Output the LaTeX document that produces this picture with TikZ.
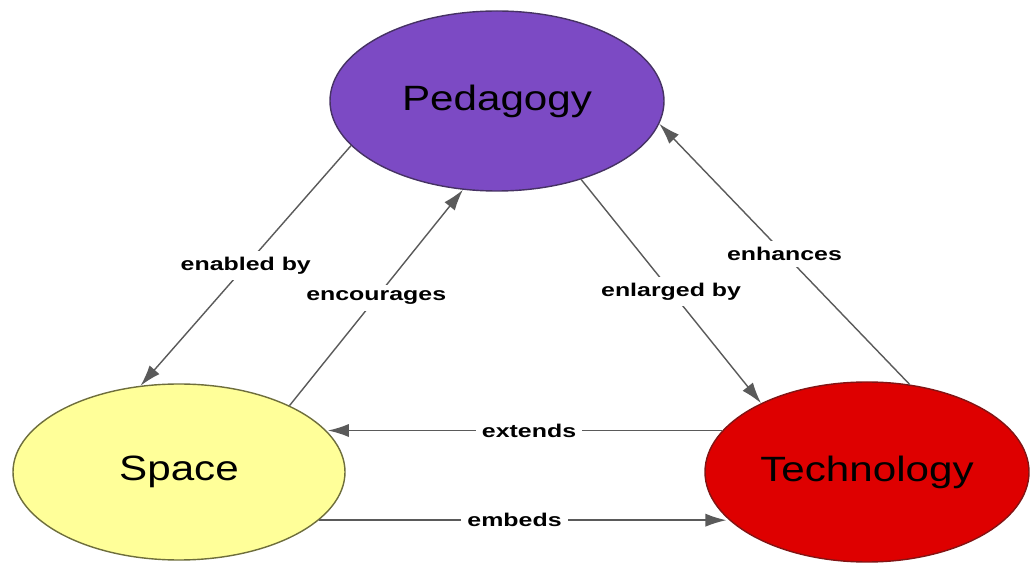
\documentclass[tikz,border=0pt]{standalone}
\usepackage{fontspec}
\setmainfont{Liberation Sans}
\newfontfamily\nodefont[FakeStretch=1.2]{Liberation Sans}
\newfontfamily\lblfont[FakeStretch=1.35]{Liberation Sans}
\usetikzlibrary{shapes.geometric,arrows.meta}
\definecolor{pedfill}{RGB}{124,74,196}
\definecolor{pedline}{RGB}{70,50,100}
\definecolor{spacefill}{RGB}{255,255,153}
\definecolor{spaceline}{RGB}{110,110,60}
\definecolor{techfill}{RGB}{222,0,0}
\definecolor{techline}{RGB}{130,20,20}
\definecolor{linkgray}{RGB}{90,90,90}

\begin{document}
\begin{tikzpicture}[
	concept/.style={ellipse,draw,line width=0.8pt,inner sep=0pt,font=\nodefont\fontsize{20}{24}\selectfont},
	link/.style={draw=linkgray,line width=0.8pt,-{Latex[length=12pt,width=7.5pt]}},
	lbl/.style={fill=white,inner sep=3.5pt,font=\lblfont\bfseries\fontsize{10.5}{12}\selectfont}]
	\useasboundingbox (0,0) rectangle (20.6,11.34);
	
	\node[concept,fill=pedfill,draw=pedline,minimum width=6.68cm,minimum height=3.6cm] (ped) at (9.94,9.32) {Pedagogy};
	\node[concept,fill=spacefill,draw=spaceline,minimum width=6.64cm,minimum height=3.52cm] (space) at (3.58,1.9) {Space};
	\node[concept,fill=techfill,draw=techline,minimum width=6.48cm,minimum height=3.6cm] (tech) at (17.34,1.9) {Technology};
	
	\draw[link] (ped.197) -- node[lbl] {enabled by} (space.114);
	\draw[link] (space.31) -- node[lbl] {encourages} (ped.249);
	\draw[link] (ped.317) -- node[lbl] {enlarged by} (tech.147);
	\draw[link] (tech.64) -- node[lbl] {enhances} (ped.352);
	\draw[link] (tech.164) -- node[lbl,pos=0.49] {extends} (space.15 |- tech.164);
	\draw[link] (space.341) -- node[lbl,pos=0.48] {embeds} (tech.198 |- space.341);
\end{tikzpicture}
\end{document}
